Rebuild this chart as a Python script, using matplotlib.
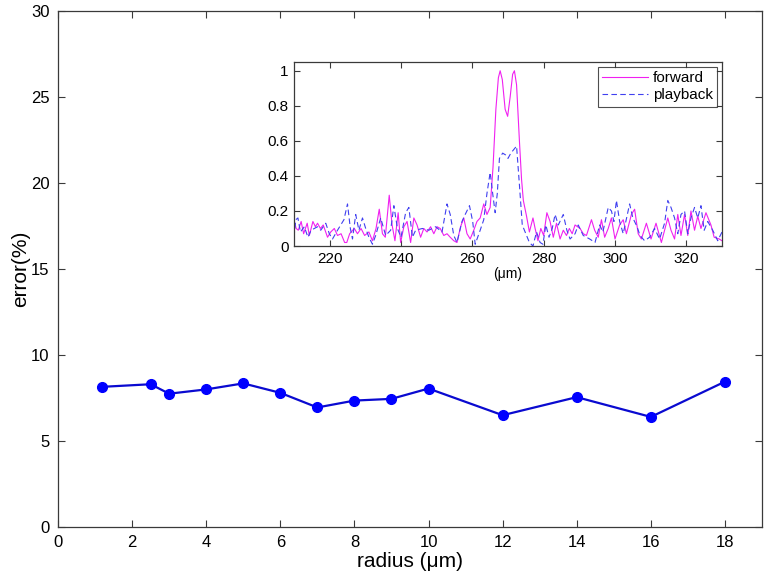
import matplotlib
matplotlib.use("Agg")
import matplotlib.pyplot as plt
from matplotlib.ticker import FuncFormatter

plt.rcParams['font.family'] = ['Liberation Sans', 'DejaVu Sans']

# Main series
radius = [1.2, 2.5, 3, 4, 5, 6, 7, 8, 9, 10, 12, 14, 16, 18]
error_pct = [8.15, 8.3, 7.75, 8.0, 8.35, 7.8, 6.95, 7.35, 7.45, 8.05, 6.5, 7.55, 6.4, 8.45]

# Inset: forward signal
forward_x = [210.0, 210.6, 211.2, 212.0, 212.7, 213.7, 214.3, 215.3, 216.0, 216.6, 217.4, 218.2, 219.4,
             220.3, 221.3, 222.2, 223.2, 224.2, 224.8, 225.6, 226.9, 227.8, 228.8, 229.8, 231.0, 232.0,
             233.0, 233.9, 234.8, 235.6, 236.7, 237.5, 238.3, 239.2, 239.9, 240.8, 241.7, 242.7, 243.6,
             244.5, 245.5, 246.4, 247.3, 248.3, 249.2, 250.1, 251.0, 252.0, 252.9, 253.8, 254.8, 255.7,
             256.7, 257.6, 258.5, 259.4, 260.4, 261.3, 262.2, 263.2, 264.1, 265.0, 265.8, 266.6, 267.3,
             267.8, 268.4, 269.2, 269.9, 270.6, 271.3, 271.8, 272.4, 273.2, 273.8, 274.3, 275.2, 276.0,
             277.0, 277.6, 278.4, 279.2, 280.0, 280.9, 281.8, 282.7, 283.6, 284.6, 285.5, 286.4, 287.2,
             288.0, 288.8, 290.2, 291.1, 292.0, 293.4, 294.3, 295.3, 296.2, 297.1, 298.1, 299.0, 300.0,
             301.3, 302.3, 303.2, 304.6, 305.5, 306.5, 307.4, 308.8, 310.1, 311.5, 313.0, 313.9, 314.8,
             315.7, 316.7, 317.6, 318.5, 319.5, 320.4, 321.3, 322.3, 323.2, 324.1, 325.5, 326.9, 327.8,
             329.2, 330.0]
forward_y = [0.15, 0.10, 0.09, 0.14, 0.07, 0.13, 0.06, 0.14, 0.11, 0.13, 0.10, 0.12, 0.05,
             0.08, 0.10, 0.06, 0.07, 0.02, 0.02, 0.07, 0.10, 0.07, 0.10, 0.06, 0.08, 0.03,
             0.10, 0.21, 0.07, 0.05, 0.29, 0.12, 0.03, 0.19, 0.02, 0.11, 0.14, 0.02, 0.16,
             0.12, 0.05, 0.10, 0.08, 0.11, 0.07, 0.11, 0.10, 0.06, 0.07, 0.05, 0.03, 0.02,
             0.11, 0.16, 0.07, 0.04, 0.09, 0.14, 0.16, 0.24, 0.18, 0.22, 0.45, 0.78, 0.96,
             1.00, 0.95, 0.78, 0.74, 0.85, 0.98, 1.00, 0.92, 0.60, 0.38, 0.26, 0.17, 0.08,
             0.16, 0.10, 0.03, 0.10, 0.06, 0.19, 0.14, 0.05, 0.13, 0.04, 0.09, 0.06, 0.10,
             0.07, 0.12, 0.10, 0.07, 0.06, 0.15, 0.09, 0.05, 0.15, 0.05, 0.10, 0.16, 0.04,
             0.12, 0.15, 0.07, 0.18, 0.21, 0.07, 0.04, 0.13, 0.04, 0.13, 0.02, 0.09, 0.16,
             0.09, 0.04, 0.18, 0.06, 0.18, 0.06, 0.20, 0.09, 0.17, 0.10, 0.19, 0.12, 0.05,
             0.04, 0.03]

# Inset: playback signal
playback_x = [210.0, 210.5, 211.1, 211.8, 212.9, 213.9, 214.8, 216.6, 217.5, 218.9, 219.9, 220.8, 222.2,
              224.0, 225.0, 225.8, 226.4, 227.3, 228.2, 229.2, 230.1, 231.0, 232.0, 232.9, 234.3, 235.7,
              237.1, 238.0, 239.0, 240.0, 241.3, 242.2, 243.2, 244.1, 246.0, 247.8, 249.7, 251.5, 252.9,
              253.8, 254.8, 255.7, 257.1, 258.0, 259.2, 260.1, 260.8, 262.2, 263.2, 264.1, 265.0, 265.7,
              266.4, 267.0, 267.6, 268.5, 269.3, 270.0, 270.8, 271.6, 272.4, 273.2, 274.0, 275.0, 276.0,
              277.0, 278.0, 279.0, 279.8, 280.6, 281.5, 282.4, 283.2, 284.1, 285.5, 286.5, 287.4, 288.8,
              289.7, 291.1, 292.9, 294.4, 295.7, 296.6, 298.1, 299.0, 299.7, 300.4, 301.3, 302.3, 304.1,
              305.0, 306.2, 307.0, 308.3, 309.7, 311.1, 312.5, 313.9, 314.8, 315.7, 316.7, 317.6, 318.5,
              319.5, 320.4, 321.3, 322.3, 323.2, 324.1, 325.0, 326.0, 327.4, 328.8, 330.0]
playback_y = [0.05, 0.15, 0.16, 0.08, 0.11, 0.05, 0.09, 0.11, 0.09, 0.13, 0.07, 0.04, 0.09,
              0.15, 0.24, 0.10, 0.04, 0.18, 0.09, 0.16, 0.10, 0.05, 0.01, 0.06, 0.16, 0.06,
              0.09, 0.23, 0.10, 0.05, 0.19, 0.22, 0.05, 0.09, 0.10, 0.09, 0.11, 0.08, 0.24,
              0.18, 0.06, 0.02, 0.14, 0.18, 0.23, 0.14, 0.01, 0.09, 0.15, 0.30, 0.42, 0.30,
              0.19, 0.30, 0.50, 0.53, 0.52, 0.50, 0.53, 0.55, 0.57, 0.35, 0.12, 0.07, 0.02,
              0.00, 0.08, 0.02, 0.01, 0.12, 0.05, 0.10, 0.18, 0.12, 0.18, 0.09, 0.04, 0.07,
              0.12, 0.06, 0.04, 0.02, 0.12, 0.08, 0.22, 0.20, 0.14, 0.26, 0.14, 0.07, 0.24,
              0.16, 0.11, 0.06, 0.03, 0.05, 0.10, 0.04, 0.13, 0.26, 0.22, 0.16, 0.07, 0.18,
              0.20, 0.07, 0.16, 0.22, 0.16, 0.23, 0.09, 0.14, 0.09, 0.03, 0.08]

main_xticks = [0, 2, 4, 6, 8, 10, 12, 14, 16, 18]
main_yticks = [0, 5, 10, 15, 20, 25, 30]
inset_xticks = [220, 240, 260, 280, 300, 320]
inset_yticks = [0, 0.2, 0.4, 0.6, 0.8, 1.0]

spine_color = '#3a3a3a'

fig = plt.figure(figsize=(7.69, 5.77), dpi=100)
ax = fig.add_axes([58/769, 1-527/577, (762-58)/769, (527-11)/577])
ax.plot(radius, error_pct, color='#0a0ad0', linewidth=1.6, marker='o',
        markersize=7, markerfacecolor='#0000ff', markeredgecolor='#0000ff')
ax.set_xlim(0, 19)
ax.set_ylim(0, 30)
ax.set_xticks(main_xticks)
ax.set_yticks(main_yticks)
ax.tick_params(direction='in', top=True, right=True, length=5, width=0.8,
               colors=spine_color, labelcolor='black', labelsize=12, pad=6)
for s in ax.spines.values():
    s.set_color(spine_color)
    s.set_linewidth(0.9)
ax.set_xlabel('radius (μm)', fontsize=15, labelpad=1)
ax.set_ylabel('error(%)', fontsize=15, labelpad=1)

ins = fig.add_axes([294/769, 1-246/577, (722-294)/769, (246-62)/577])
ins.plot(forward_x, forward_y, color='#f020f0', linewidth=0.8, label='forward')
ins.plot(playback_x, playback_y, color='#4040f0', linewidth=0.8, linestyle=(0, (5, 3)),
         label='playback')
ins.set_xlim(210, 330)
ins.set_ylim(0, 1.05)
ins.set_xticks(inset_xticks)
ins.set_yticks(inset_yticks)
ins.yaxis.set_major_formatter(FuncFormatter(lambda v, p: ('%g' % round(v, 2))))
ins.tick_params(direction='in', top=True, right=True, length=4, width=0.8,
                colors=spine_color, labelcolor='black', labelsize=11, pad=4)
for s in ins.spines.values():
    s.set_color(spine_color)
    s.set_linewidth(0.9)
ins.set_xlabel('(μm)', fontsize=10, labelpad=1)
leg = ins.legend(loc='upper right', fontsize=11, frameon=True, fancybox=False,
                 handlelength=3, borderpad=0.3, labelspacing=0.2, handletextpad=0.3,
                 borderaxespad=0.3)
leg.get_frame().set_edgecolor('#222222')
leg.get_frame().set_linewidth(0.8)

fig.savefig('out.png', dpi=100)
